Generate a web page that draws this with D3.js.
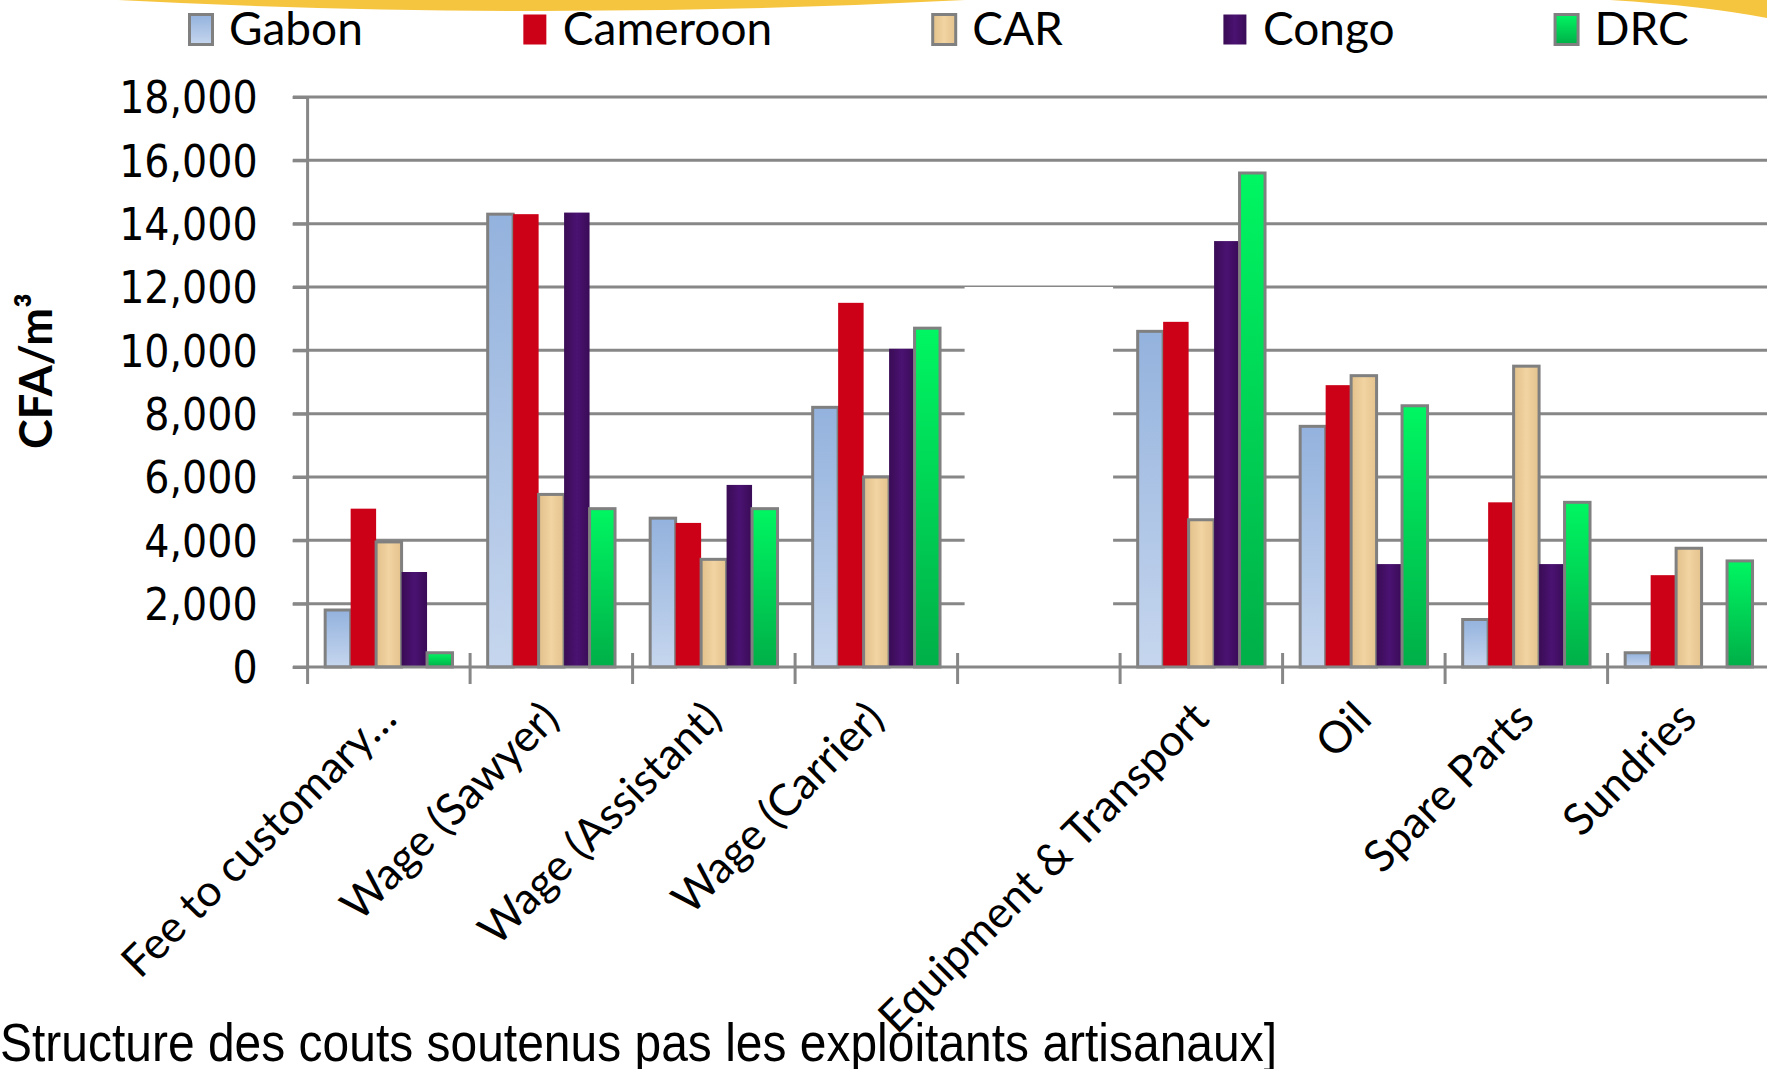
<!DOCTYPE html>
<html>
<head>
<meta charset="utf-8">
<script src="https://cdn.jsdelivr.net/npm/d3@7"></script>
<style>
  html, body { margin: 0; padding: 0; background: #ffffff; }
  svg { display: block; }
</style>
</head>
<body>
<svg id="chart" width="1767" height="1069"></svg>
<script>
// ---------------- data ----------------
const categories = ["Fee to customary…", "Wage (Sawyer)", "Wage (Assistant)", "Wage (Carrier)", "",
                    "Equipment & Transport", "Oil", "Spare Parts", "Sundries"];
const seriesNames = ["Gabon", "Cameroon", "CAR", "Congo", "DRC"];
const gabon    = [1800, 14300, 4700,  8200, null, 10600, 7600, 1500,  450];
const cameroon = [5000, 14300, 4550, 11500, null, 10900, 8900, 5200, 2900];
const car      = [3950,  5450, 3400,  6000, null,  4650, 9200, 9500, 3750];
const congo    = [3000, 14350, 5750, 10050, null, 13450, 3250, 3250,    0];
const drc      = [ 450,  5000, 5000, 10700, null, 15600, 8250, 5200, 3350];
const yTicks   = [0, 2000, 4000, 6000, 8000, 10000, 12000, 14000, 16000, 18000];
const yTitle   = "CFA/m³";
const caption  = "Structure des couts soutenus pas les exploitants artisanaux]";
const hiddenCategory = "";      // category whose plot area is covered by a white box
const hiddenTop = 12000;        // value up to which the box covers

const seriesValues = [gabon, cameroon, car, congo, drc];

// ---------------- styles ----------------
const W = 1767, H = 1069;
const fills   = ["url(#gGabon)", "#CC0017", "url(#gCar)", "url(#gCongo)", "url(#gDrc)"];
const borders = ["#808080", null, "#808080", null, "#808080"];
const gridColor = "#878787";

const svg = d3.select("#chart");
const defs = svg.append("defs");

function linGrad(id, x1, y1, x2, y2, stops) {
  const g = defs.append("linearGradient").attr("id", id)
    .attr("x1", x1).attr("y1", y1).attr("x2", x2).attr("y2", y2);
  stops.forEach(s => g.append("stop").attr("offset", s[0]).attr("stop-color", s[1]));
}
linGrad("gGabon", 0, 0, 0, 1, [[0, "#93B2DD"], [1, "#C6D6EE"]]);
linGrad("gDrc",   0, 0, 0, 1, [[0, "#00F662"], [1, "#00AF48"]]);
linGrad("gCar",   0, 0, 1, 0, [[0, "#E2C08A"], [0.5, "#F1D4A2"], [1, "#E4C28D"]]);
linGrad("gCongo", 0, 0, 1, 0, [[0, "#3A0C55"], [0.5, "#4A1272"], [1, "#3A0C57"]]);

// ---------------- decoration at top ----------------
svg.append("path")
  .attr("d", "M118,0 Q540,22 965,0 Z")
  .attr("fill", "#F6C53F");
svg.append("path")
  .attr("d", "M1610,0 Q1705,6 1767,18 L1767,0 Z")
  .attr("fill", "#F6C53F");

// ---------------- scales ----------------
const plotLeft = 307.6, step = 162.5;
const x0 = d3.scaleBand().domain(categories)
  .range([plotLeft, plotLeft + step * categories.length]).padding(0);
const x1 = d3.scaleBand().domain(seriesNames)
  .range([0, x0.bandwidth()]).paddingInner(0).paddingOuter(0.69);
const y = d3.scaleLinear().domain([0, 18000]).range([667, 97]);

// ---------------- gridlines ----------------
const gridLeft = 293;
svg.append("g").selectAll("line").data(yTicks.filter(d => d !== 0)).join("line")
  .attr("x1", gridLeft).attr("x2", W)
  .attr("y1", d => y(d)).attr("y2", d => y(d))
  .attr("stroke", gridColor).attr("stroke-width", 3);

// white box covering the hidden category
svg.append("rect")
  .attr("x", x0(hiddenCategory) + 7)
  .attr("y", y(hiddenTop))
  .attr("width", x0.bandwidth() - 14)
  .attr("height", y(0) - y(hiddenTop) - 2)
  .attr("fill", "#ffffff");

// ---------------- bars ----------------
const groups = svg.append("g").selectAll("g").data(categories).join("g")
  .attr("transform", d => `translate(${x0(d)},0)`);

groups.selectAll("rect")
  .data((c, ci) => seriesNames.map((s, si) => ({ s, si, v: seriesValues[si][ci] })))
  .join("rect")
  .filter(d => d.v != null && d.v > 0)
  .attr("x", d => x1(d.s))
  .attr("y", d => y(d.v))
  .attr("width", x1.bandwidth())
  .attr("height", d => y(0) - y(d.v))
  .attr("fill", d => fills[d.si])
  .attr("stroke", d => borders[d.si] || "none")
  .attr("stroke-width", d => borders[d.si] ? 3 : 0);

// ---------------- axes ----------------
// baseline
svg.append("line")
  .attr("x1", gridLeft).attr("x2", W)
  .attr("y1", y(0)).attr("y2", y(0))
  .attr("stroke", gridColor).attr("stroke-width", 3);

// y axis
const yAxis = svg.append("g")
  .attr("transform", `translate(${plotLeft},0)`)
  .call(d3.axisLeft(y).tickValues(yTicks).tickFormat(d3.format(",")).tickSize(15).tickPadding(35));
yAxis.select(".domain").remove();
yAxis.selectAll(".tick line").attr("stroke", gridColor).attr("stroke-width", 3);
yAxis.selectAll(".tick text")
  .attr("fill", "#000")
  .attr("dy", "0.36em")
  .style("font-family", "'DejaVu Sans Condensed', 'DejaVu Sans', sans-serif")
  .style("font-stretch", "condensed")
  .style("font-size", "44px");
svg.append("line")
  .attr("x1", plotLeft).attr("x2", plotLeft)
  .attr("y1", y(18000)).attr("y2", y(0) + 17)
  .attr("stroke", gridColor).attr("stroke-width", 3);

// category boundary ticks
const bounds = d3.range(categories.length + 1).map(i => plotLeft + i * x0.step());
svg.append("g").selectAll("line").data(bounds.slice(1)).join("line")
  .attr("x1", d => d).attr("x2", d => d)
  .attr("y1", y(0) - 14).attr("y2", y(0) + 17)
  .attr("stroke", gridColor).attr("stroke-width", 3);

// category labels
const xAxis = svg.append("g")
  .attr("transform", `translate(0,${y(0)})`)
  .call(d3.axisBottom(x0).tickSize(0).tickPadding(0));
xAxis.select(".domain").remove();
xAxis.selectAll(".tick text")
  .attr("y", 0).attr("dy", "0.35em")
  .attr("text-anchor", "end")
  .attr("transform", "translate(-1,43) rotate(-45)")
  .attr("fill", "#000")
  .style("font-family", "Lato, 'Open Sans', sans-serif")
  .style("font-size", "44px");

// y title
svg.append("text")
  .attr("transform", "translate(36,371) rotate(-90)")
  .attr("text-anchor", "middle")
  .attr("dy", "0.35em")
  .style("font-family", "Lato, 'Open Sans', sans-serif")
  .style("font-weight", "bold")
  .style("font-size", "45px")
  .text(yTitle);

// ---------------- legend ----------------
const legend = svg.append("g");
let lx = 188;
seriesNames.forEach((name, i) => {
  const g = legend.append("g");
  g.append("rect")
    .attr("x", lx + 1.5).attr("y", 14.5)
    .attr("width", 23).attr("height", 30)
    .attr("fill", fills[i])
    .attr("stroke", borders[i] || "none")
    .attr("stroke-width", borders[i] ? 3 : 0);
  const t = g.append("text")
    .attr("x", lx + 41).attr("y", 45)
    .style("font-family", "Lato, 'Open Sans', sans-serif")
    .style("font-size", "46px")
    .attr("fill", "#000")
    .text(name);
  lx = lx + 41 + t.node().getComputedTextLength() + 159;
});

// ---------------- caption ----------------
svg.append("text")
  .attr("x", 0).attr("y", 1061)
  .attr("textLength", 1277)
  .attr("lengthAdjust", "spacingAndGlyphs")
  .style("font-family", "'Liberation Sans', Arial, sans-serif")
  .style("font-size", "54px")
  .attr("fill", "#000")
  .text(caption);
</script>
</body>
</html>
